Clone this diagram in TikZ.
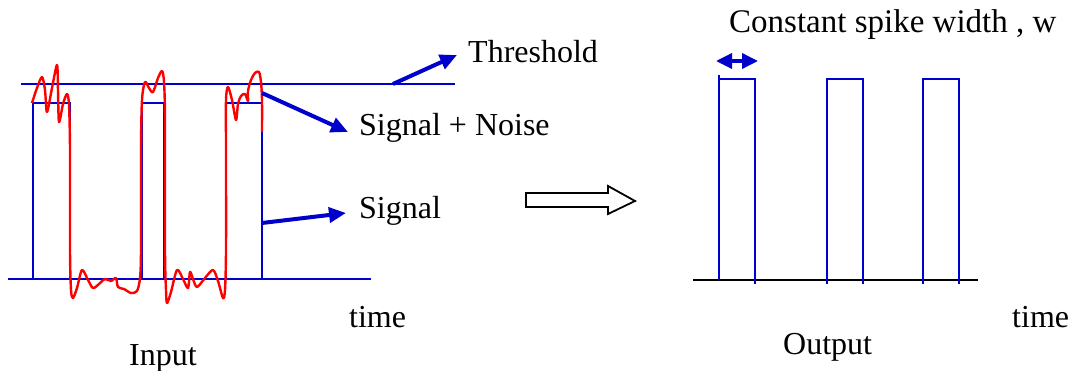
\documentclass[tikz,border=0pt]{standalone}
\usepackage{fontspec}
\setmainfont{Liberation Serif}
\usetikzlibrary{arrows.meta}
\definecolor{sigblue}{RGB}{0,0,204}
\definecolor{noisered}{RGB}{255,0,0}
\tikzset{
  sigline/.style={draw=sigblue, line width=2.6pt},
  noiseline/.style={draw=noisered, line width=2.4pt, line join=round},
  pointer/.style={draw=sigblue, fill=sigblue, line width=4pt, -{Triangle[length=17pt,width=15pt]}},
  widtharrow/.style={draw=sigblue, fill=sigblue, line width=3.5pt, {Triangle[length=16pt,width=15pt]}-{Triangle[length=16pt,width=15pt]}},
  axisline/.style={draw=black, line width=2.6pt},
  lbl/.style={inner sep=0pt, anchor=base west, font=\fontsize{32}{38}\selectfont},
  hollow/.style={draw=black, line width=1.8pt, fill=white, line join=miter}
}
\begin{document}
\begin{tikzpicture}[x=1pt, y=-1pt]
\useasboundingbox (0,0) rectangle (1071,371);
% ---------- Input side ----------
\draw[sigline] (21,84) -- (455,84);
\draw[sigline] (8,279) -- (371,279);
\draw[sigline] (33,279) -- (33,103) -- (70,103) -- (70,279);
\draw[sigline] (142,279) -- (142,103) -- (164,103) -- (164,279);
\draw[sigline] (226,279) -- (226,103) -- (262,103) -- (262,279);
% noisy signal
\draw[noiseline] plot[smooth, tension=0.5] coordinates {
 (32,103) (37,88) (42,77) (45,90) (47,112) (52,88) (57,65) (58,90) (59,122)
 (63,104) (67,94) (69,105) (70,150) (70,250) (71,290) (73,298) (77,288) (82,270)
 (88,280) (93,288) (99,284) (105,279) (111,281) (116,278) (118,287) (124,289)
 (131,293) (137,291) (140,278) (141,250) (141,150) (142,100) (145,82) (149,88)
 (153,92) (158,78) (162,71) (164,82) (165,120) (165,250) (166,290) (167,303)
 (171,292) (177,270) (183,279) (188,288) (190,272) (193,279) (197,287) (205,278)
 (213,270) (218,281) (223,298) (225,290) (226,250) (226,150) (226,100) (228,87)
 (232,100) (236,120) (238,104) (241,96) (245,94) (248,101) (248,91) (251,80)
 (255,73) (259,72) (261,82) (262,100) (262,132)};
% pointers
\coordinate (thrA) at (393,84);
\coordinate (thrB) at (457,55);
\coordinate (snA) at (262,93);
\coordinate (snB) at (348,132);
\coordinate (sA) at (262,223);
\coordinate (sB) at (346,213);
\draw[pointer] (thrA) -- (thrB);
\draw[pointer] (snA) -- (snB);
\draw[pointer] (sA) -- (sB);
\node[lbl] (thr) at (468,63) {Threshold};
\node[lbl] (sn) at (359,136) {Signal + Noise};
\node[lbl] (sig) at (359,219) {Signal};
\node[lbl] (timeL) at (349,327) {time};
\node[lbl] (inp) at (129,365) {Input};
% ---------- hollow arrow ----------
\draw[hollow] (526,193) -- (608,193) -- (608,186) -- (635,201) -- (608,214) -- (608,207) -- (526,207) -- cycle;
% ---------- Output side ----------
\draw[axisline] (693,280) -- (978,280);
\draw[sigline] (719,75) -- (719,280);
\draw[sigline] (719,79) -- (755,79) -- (755,284);
\draw[sigline] (827,284) -- (827,79) -- (863,79) -- (863,284);
\draw[sigline] (923,284) -- (923,79) -- (959,79) -- (959,284);
\coordinate (wA) at (716,61);
\coordinate (wB) at (758,61);
\draw[widtharrow] (wA) -- (wB);
\node[lbl, font=\fontsize{33}{38}\selectfont] (cw) at (729,33) {Constant spike width , w};
\node[lbl] (timeR) at (1012,327) {time};
\node[lbl] (outp) at (783,355) {Output};
\end{tikzpicture}
\end{document}
